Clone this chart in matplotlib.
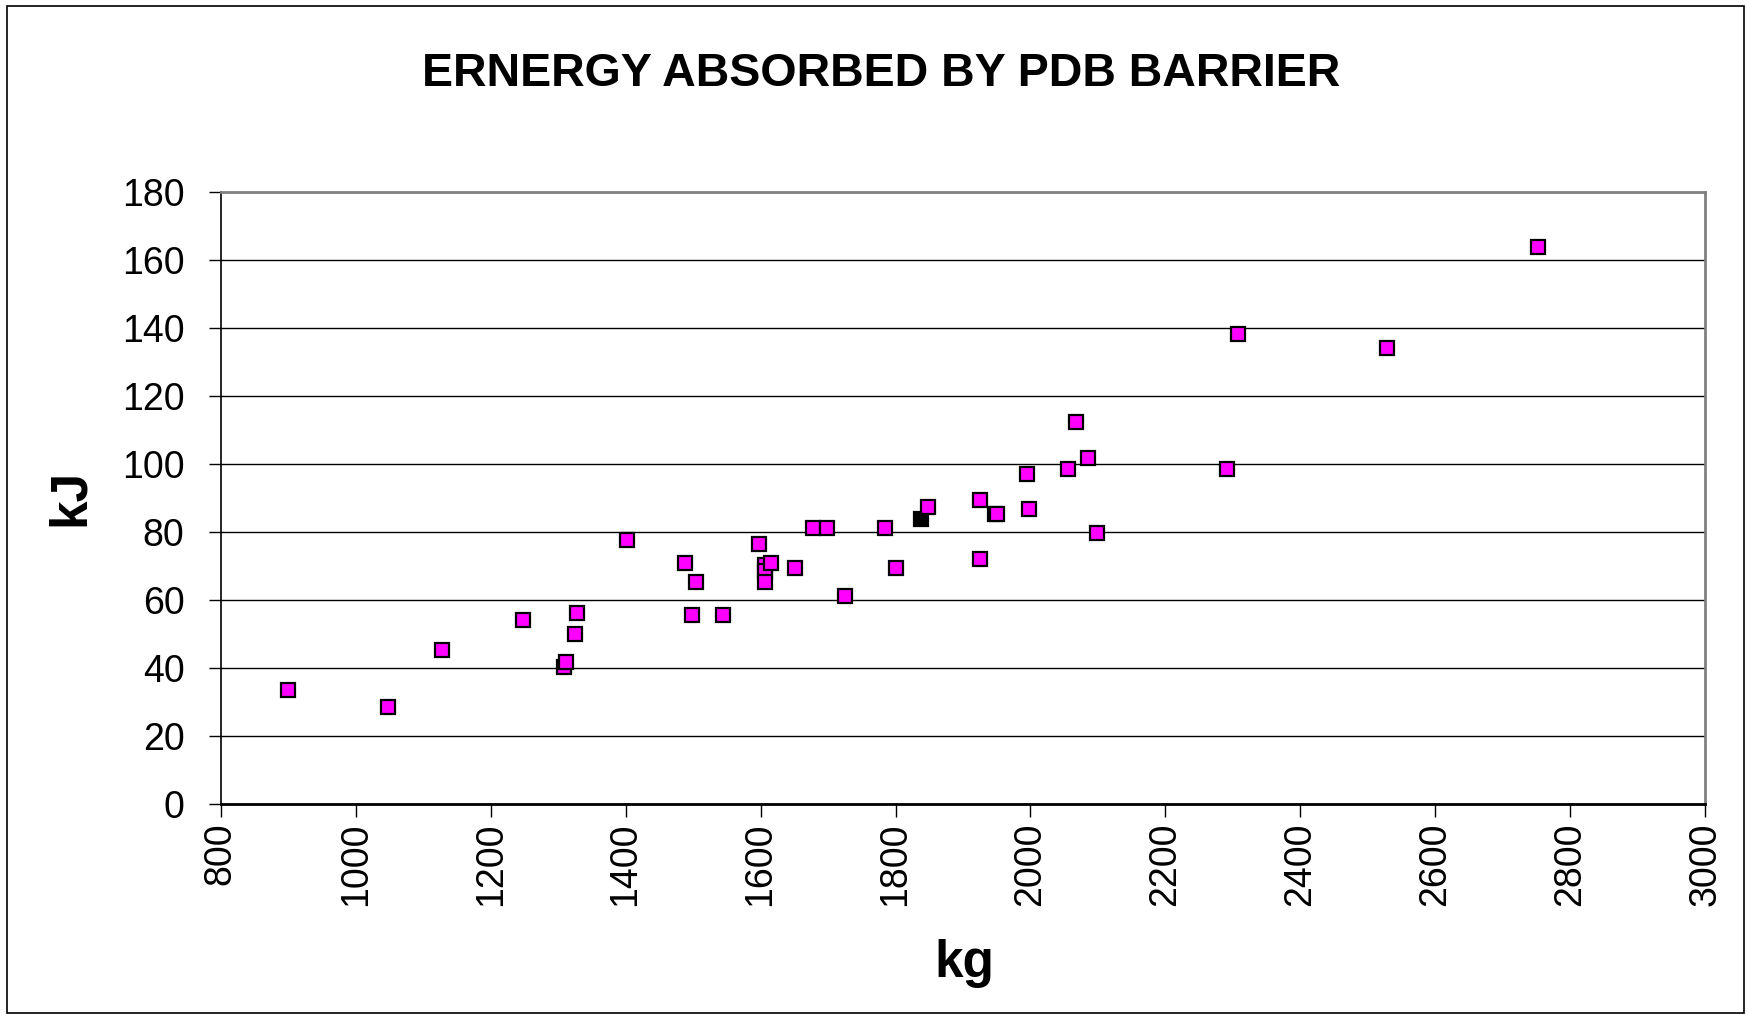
import matplotlib
matplotlib.use('Agg')
from matplotlib import pyplot as plt
from matplotlib.patches import Rectangle

# test mass (kg) vs energy absorbed (kJ)
mass_kg = [900, 1048, 1128, 1248, 1308, 1312, 1325, 1328, 1402, 1488,
           1498, 1505, 1545, 1598, 1607, 1607, 1607, 1615, 1651, 1678,
           1698, 1725, 1785, 1801, 1848, 1925, 1925, 1948, 1951, 1995,
           1998, 2055, 2068, 2085, 2098, 2291, 2308, 2528, 2752]
energy_kj = [33.5, 28.7, 45.3, 54.2, 40.5, 41.8, 50.1, 56.3, 77.8, 70.8,
             55.6, 65.3, 55.6, 76.4, 70.2, 68.6, 65.3, 70.8, 69.5, 81.2,
             81.2, 61.2, 81.2, 69.4, 87.4, 89.5, 72.2, 85.2, 85.4, 97.1,
             86.7, 98.5, 112.3, 101.9, 79.8, 98.6, 138.3, 134.2, 163.8]

# highlighted point
marked_kg = [1838]
marked_kj = [84.0]

x_ticks = list(range(800, 3001, 200))
y_ticks = list(range(0, 181, 20))

plt.rcParams['font.family'] = ['Liberation Sans', 'DejaVu Sans']

fig = plt.figure(figsize=(17.49, 10.15), dpi=100)
ax = fig.add_axes([0.1262, 0.2076, 0.8488, 0.6033])

ax.plot(marked_kg, marked_kj, 's', color='black', markersize=9.5,
        markeredgecolor='black', markeredgewidth=1.6, zorder=3, clip_on=False)
ax.plot(mass_kg, energy_kj, 's', color='#ff00ff', markersize=9.5,
        markeredgecolor='black', markeredgewidth=1.6, zorder=4, clip_on=False)

ax.set_xlim(800, 3000)
ax.set_ylim(0, 180)
ax.set_xticks(x_ticks)
ax.set_yticks(y_ticks)
ax.set_xticklabels([str(t) for t in x_ticks], rotation=90, fontsize=27)
ax.set_yticklabels([str(t) for t in y_ticks], fontsize=27)
ax.tick_params(axis='y', direction='out', length=9, width=1, pad=17)
ax.tick_params(axis='x', direction='out', length=9, width=1, pad=4)

ax.grid(True, axis='y', color='black', linewidth=1)
ax.set_axisbelow(True)

for side in ['top', 'right']:
    ax.spines[side].set_color('#808080')
    ax.spines[side].set_linewidth(2)
ax.spines['left'].set_color('black')
ax.spines['left'].set_linewidth(1.2)
ax.spines['bottom'].set_color('black')
ax.spines['bottom'].set_linewidth(2)

ax.set_xlabel('kg', fontsize=37, fontweight='bold')
ax.set_ylabel('kJ', fontsize=37, fontweight='bold')
ax.xaxis.set_label_coords(0.501, -0.22)
ax.yaxis.set_label_coords(-0.085, 0.501)

fig.text(0.504, 0.927, 'ERNERGY ABSORBED BY PDB BARRIER', fontsize=33.5,
         fontweight='bold', ha='center', va='center')

# chart border
fig.patches.append(Rectangle((0.004, 0.002), 0.993, 0.992, transform=fig.transFigure,
                             fill=False, edgecolor='black', linewidth=1.2))

fig.savefig('out.png', dpi=100)
